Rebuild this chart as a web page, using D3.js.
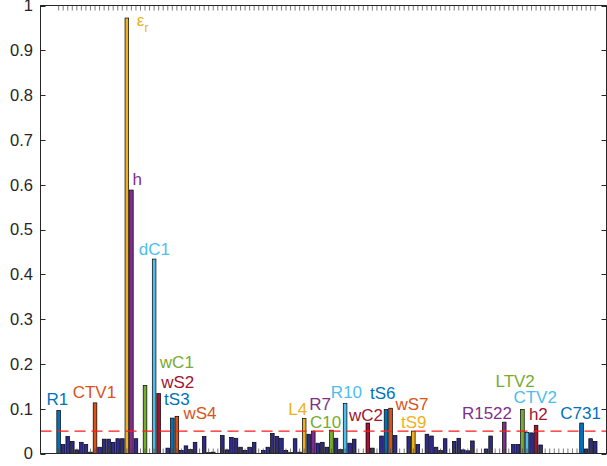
<!DOCTYPE html>
<html>
<head>
<meta charset="utf-8">
<script src="https://cdn.jsdelivr.net/npm/d3@7"></script>
<style>
  html, body { margin: 0; padding: 0; background: #fff; }
  svg { display: block; }
  text { font-family: "Liberation Sans", Arial, Helvetica, sans-serif; }
</style>
</head>
<body>
<svg id="chart" width="607" height="466"></svg>
<script>
// ---- data ----
const values = [
  0.096, 0.020, 0.038, 0.027, 0.008, 0.025, 0.020, 0.003, 0.113, 0.014,
  0.032, 0.032, 0.025, 0.033, 0.033, 0.972, 0.588, 0.033, 0.000, 0.152,
  0.000, 0.434, 0.134, 0.000, 0.012, 0.079, 0.083, 0.007, 0.017, 0.009,
  0.025, 0.000, 0.038, 0.002, 0.003, 0.000, 0.040, 0.008, 0.036, 0.034,
  0.014, 0.007, 0.014, 0.025, 0.000, 0.007, 0.014, 0.045, 0.038, 0.034,
  0.007, 0.002, 0.033, 0.003, 0.078, 0.043, 0.050, 0.023, 0.025, 0.014,
  0.052, 0.034, 0.009, 0.112, 0.023, 0.032, 0.000, 0.000, 0.068, 0.012,
  0.000, 0.039, 0.098, 0.101, 0.040, 0.000, 0.000, 0.038, 0.050, 0.020,
  0.000, 0.043, 0.039, 0.014, 0.007, 0.033, 0.000, 0.027, 0.034, 0.008,
  0.006, 0.028, 0.000, 0.000, 0.010, 0.039, 0.000, 0.000, 0.070, 0.000,
  0.020, 0.020, 0.098, 0.047, 0.046, 0.063, 0.019, 0.000, 0.000, 0.000,
  0.000, 0.000, 0.000, 0.000, 0.000, 0.068, 0.010, 0.033, 0.027
];
// highlighted bars (1-based index) and their names
const labelNames = ["R1","CTV1","eps_r","h","wC1","dC1","wS2","tS3","wS4","L4","R7","C10","R10","wC2","tS6","wS7","tS9","R1522","LTV2","CTV2","h2","C731"];
const labelBars  = [1, 9, 16, 17, 20, 22, 23, 26, 27, 55, 57, 61, 64, 69, 73, 74, 79, 99, 103, 104, 106, 116];
// label anchor (text centre in bar-index units, baseline in value units)
const labelX = [0.74, 8.87, 18.2, 18.3, 27.0, 22.07, 27.2, 27.0, 32.1, 53.6, 58.5, 59.7, 64.3, 68.6, 72.3, 78.7, 79.1, 95.2, 101.4, 105.8, 106.5, 115.8];
const labelY = [0.1076, 0.123, 0.955, 0.599, 0.19, 0.442, 0.146, 0.1076, 0.076, 0.085, 0.096, 0.058, 0.123, 0.072, 0.121, 0.096, 0.058, 0.076, 0.148, 0.112, 0.074, 0.076];
const yTicks = [0, 0.1, 0.2, 0.3, 0.4, 0.5, 0.6, 0.7, 0.8, 0.9, 1];
const yTickLabels = ["0","0.1","0.2","0.3","0.4","0.5","0.6","0.7","0.8","0.9","1"];
const threshold = 0.05;

// ---- style ----
const palette = ["#0072BD","#D95319","#EDB120","#7E2F8E","#77AC30","#4DBEEE","#A2142F"];
const baseColor = "#2E2A8A";
const axisColor = "#262626";

const svg = d3.select("#chart");
const L = 40.5, R = 606.5, T = 5.5, B = 453.5;
const x = d3.scaleLinear().domain([-3.1, 121.6]).range([40, 607]);
const y = d3.scaleLinear().domain([0, 1]).range([B, T]);
const slot = x(1) - x(0);
const barW = slot * 0.8;

const idx = d3.range(1, values.length + 1);
const colorOf = new Map(labelBars.map((b, k) => [b, palette[k % palette.length]]));

// bars
svg.append("g").selectAll("rect").data(idx).join("rect")
  .attr("x", i => x(i) - barW / 2)
  .attr("y", i => y(values[i - 1]))
  .attr("width", barW)
  .attr("height", i => y(0) - y(values[i - 1]))
  .attr("fill", i => colorOf.get(i) || baseColor)
  .attr("stroke", "#000")
  .attr("stroke-width", 0.7);

// threshold line
svg.append("line")
  .attr("x1", L).attr("x2", R)
  .attr("y1", y(threshold)).attr("y2", y(threshold))
  .attr("stroke", "#FF1A1A").attr("stroke-width", 1.2)
  .attr("stroke-dasharray", "11,6");

// axes (box)
const gx = svg.append("g");
const tickLen = 5;
gx.selectAll(".tt").data(idx).join("line")
  .attr("x1", i => x(i)).attr("x2", i => x(i))
  .attr("y1", T).attr("y2", T + tickLen)
  .attr("stroke", "#444").attr("stroke-width", 0.7);
gx.selectAll(".bt").data(idx).join("line")
  .attr("x1", i => x(i)).attr("x2", i => x(i))
  .attr("y1", B).attr("y2", B - tickLen)
  .attr("stroke", "#444").attr("stroke-width", 0.7);
gx.selectAll(".yl").data(yTicks).join("line")
  .attr("x1", L).attr("x2", L + tickLen)
  .attr("y1", d => Math.round(y(d)) + 0.5).attr("y2", d => Math.round(y(d)) + 0.5)
  .attr("stroke", axisColor);
gx.selectAll(".yr").data(yTicks).join("line")
  .attr("x1", R).attr("x2", R - tickLen)
  .attr("y1", d => Math.round(y(d)) + 0.5).attr("y2", d => Math.round(y(d)) + 0.5)
  .attr("stroke", axisColor);
gx.append("rect")
  .attr("x", L).attr("y", T).attr("width", R - L).attr("height", B - T)
  .attr("fill", "none").attr("stroke", axisColor).attr("stroke-width", 1);

// y tick labels
svg.selectAll(".ylab").data(yTicks).join("text")
  .attr("x", 33).attr("y", d => y(d))
  .attr("dy", "0.36em")
  .attr("text-anchor", "end")
  .attr("font-size", 16.5)
  .attr("fill", axisColor)
  .text((d, k) => yTickLabels[k]);

// labels
labelNames.forEach((name, k) => {
  const t = svg.append("text")
    .attr("x", x(labelX[k]))
    .attr("y", y(labelY[k]))
    .attr("text-anchor", name === "eps_r" ? "start" : "middle")
    .attr("font-size", 17)
    .attr("fill", palette[k % palette.length]);
  if (name === "eps_r") {
    t.append("tspan").text("\u03B5");
    t.append("tspan").attr("font-size", 12).attr("dy", 6).text("r");
  } else {
    t.text(name);
  }
});
</script>
</body>
</html>
